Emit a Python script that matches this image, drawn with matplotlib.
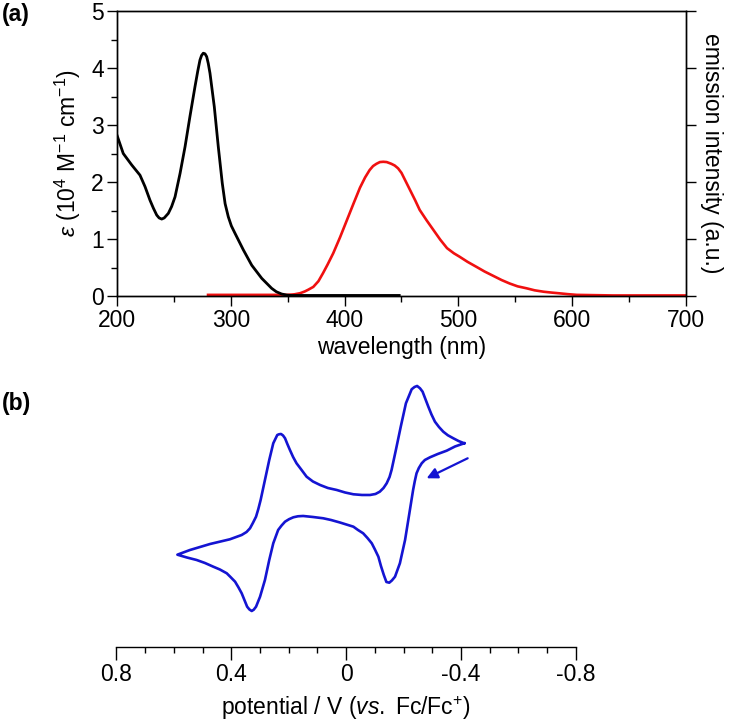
import matplotlib
matplotlib.use('Agg')
import matplotlib.pyplot as plt
from matplotlib.ticker import MultipleLocator

plt.rcParams['font.family'] = ['Liberation Sans', 'DejaVu Sans']
plt.rcParams['mathtext.fontset'] = 'custom'
plt.rcParams['mathtext.rm'] = 'Liberation Sans'
plt.rcParams['mathtext.it'] = 'Liberation Sans:italic'
plt.rcParams['axes.unicode_minus'] = False

# (a) absorption spectrum, epsilon in 10^4 M-1 cm-1
abs_nm = [200, 205.5, 212.9, 220.2, 224.6, 229, 232, 234.9, 237, 239.3, 241.5,
          245.1, 248, 251, 255.4, 259.8, 264.1, 268.5, 271, 272.9, 274.3, 275.8,
          277.3, 278.8, 280.2, 281.7, 285.5, 289, 292.5, 295, 297.8, 300.5, 303.7,
          311, 318.4, 327.2, 335.9, 340, 344.7, 349, 353.5, 370, 400, 448]
abs_eps = [2.82, 2.50, 2.30, 2.12, 1.92, 1.68, 1.54, 1.42, 1.37, 1.35, 1.37,
           1.45, 1.57, 1.74, 2.15, 2.62, 3.15, 3.67, 3.95, 4.14, 4.22, 4.26,
           4.25, 4.20, 4.08, 3.91, 3.32, 2.62, 1.98, 1.62, 1.39, 1.23, 1.10,
           0.81, 0.54, 0.31, 0.135, 0.075, 0.035, 0.018, 0.01, 0.01, 0.01, 0.01]

# (a) emission spectrum (a.u.)
em_nm = [280, 300, 330, 350, 356, 361, 365, 368, 372.5, 377, 381, 385, 390,
         396, 402, 408, 413.5, 418, 422, 425, 428, 431, 434, 437, 441, 444,
         447, 450, 453, 457.5, 462, 466, 472, 478, 484, 490, 496, 501, 508,
         516, 523, 531, 538, 545, 552, 560, 567, 575, 582, 589, 596, 604,
         620, 636, 660, 700]
em_int = [0.02, 0.02, 0.02, 0.02, 0.03, 0.05, 0.08, 0.11, 0.16, 0.26, 0.40,
          0.55, 0.75, 1.03, 1.33, 1.63, 1.90, 2.08, 2.21, 2.28, 2.32, 2.35,
          2.355, 2.35, 2.32, 2.29, 2.24, 2.16, 2.04, 1.86, 1.68, 1.51, 1.33,
          1.16, 0.99, 0.84, 0.75, 0.69, 0.60, 0.51, 0.43, 0.35, 0.28, 0.22,
          0.17, 0.135, 0.10, 0.075, 0.06, 0.047, 0.033, 0.02, 0.015, 0.01,
          0.01, 0.01]

# (b) cyclic voltammogram, starting at the negative vertex (arrow direction)
cv_pot = [-0.411, -0.379, -0.350, -0.319, -0.292, -0.274, -0.263, -0.253, -0.245,
          -0.239, -0.233, -0.220, -0.205, -0.187, -0.170, -0.159, -0.150, -0.140,
          -0.131, -0.121, -0.112, -0.100, -0.089, -0.074, -0.059, -0.041, -0.025,
          0.022, 0.053, 0.080, 0.116, 0.150, 0.168, 0.184, 0.199, 0.213, 0.225,
          0.237, 0.254, 0.268, 0.283, 0.300, 0.314, 0.322, 0.329, 0.337, 0.345,
          0.364, 0.375, 0.387, 0.403, 0.416, 0.440, 0.463, 0.492, 0.521, 0.555,
          0.588,
          0.544, 0.474, 0.405, 0.364, 0.347, 0.335, 0.325, 0.314, 0.306, 0.298,
          0.283, 0.268, 0.254, 0.240, 0.234, 0.227, 0.220, 0.213, 0.205, 0.196,
          0.185, 0.173, 0.158, 0.138, 0.116, 0.091, 0.064, 0.033, 0.004, -0.025,
          -0.055, -0.083, -0.102, -0.117, -0.130, -0.141, -0.151, -0.158, -0.173,
          -0.190, -0.208, -0.228, -0.238, -0.247, -0.257, -0.266, -0.286, -0.297,
          -0.309, -0.323, -0.338, -0.354, -0.373, -0.391, -0.411]
cv_cur = [7.67, 7.35, 6.93, 6.6, 6.27, 6.0, 5.67, 5.2, 4.67,
          3.9, 3.0, 0.67, -2.0, -4.33, -5.67, -6.05, -6.27, -6.2,
          -5.5, -4.6, -3.67, -2.95, -2.33, -1.8, -1.33, -1.0, -0.67,
          -0.25, 0.0, 0.17, 0.3, 0.4, 0.37, 0.27, 0.08, -0.17, -0.55,
          -1.0, -2.33, -4.0, -6.0, -7.67, -8.67, -8.97, -9.1, -8.95, -8.67,
          -7.33, -6.75, -6.17, -5.7, -5.33, -4.95, -4.67, -4.3, -4.0, -3.75,
          -3.47,
          -3.0, -2.4, -1.93, -1.5, -1.2, -0.83, -0.3, 0.33, 1.1, 2.0,
          4.0, 6.0, 7.67, 8.5, 8.57, 8.6, 8.45, 8.17, 7.6, 7.0,
          6.3, 5.67, 5.1, 4.33, 3.85, 3.5, 3.2, 3.0, 2.75, 2.57,
          2.5, 2.5, 2.6, 2.83, 3.2, 3.67, 4.3, 5.0, 7.0,
          9.33, 11.67, 13.07, 13.3, 13.4, 13.17, 12.83, 11.33, 10.55,
          9.83, 9.3, 8.83, 8.47, 8.17, 7.9, 7.67]
cv_ticks = [0.8, 0.4, 0, -0.4, -0.8]
cv_ticklabels = ['0.8', '0.4', '0', '-0.4', '-0.8']

FS = 16.5

fig = plt.figure(figsize=(7.29, 7.25), dpi=100)

# ---- panel (a)
ax = fig.add_axes([0.1605, 0.5917, 0.7805, 0.3931])
ax2 = ax.twinx()
ax2.plot(em_nm, em_int, color='#f01010', lw=1.9, solid_joinstyle='round')
ax.plot(abs_nm, abs_eps, color='black', lw=2.0, solid_joinstyle='round')
ax.set_zorder(ax2.get_zorder() + 1)
ax.patch.set_visible(False)

ax.set_xlim(200, 700)
ax.set_ylim(0, 5)
ax2.set_ylim(0, 5)
ax.xaxis.set_major_locator(MultipleLocator(100))
ax.xaxis.set_minor_locator(MultipleLocator(50))
ax.yaxis.set_major_locator(MultipleLocator(1))
ax.yaxis.set_minor_locator(MultipleLocator(0.5))
ax2.yaxis.set_major_locator(MultipleLocator(1))
ax2.set_yticklabels([])
for a in (ax, ax2):
    for s in a.spines.values():
        s.set_linewidth(1.0)
ax.tick_params(which='major', direction='out', length=7.5, width=1.0, labelsize=FS, pad=2)
ax.tick_params(which='minor', direction='out', length=4, width=1.0)
ax.tick_params(top=False, right=False)
ax2.tick_params(which='major', direction='out', length=7.5, width=1.0)
ax.set_xlabel('wavelength (nm)', fontsize=FS, labelpad=3)
ax.set_ylabel(r'$\varepsilon$ (10$^{4}$ M$^{-1}$ cm$^{-1}$)', fontsize=FS, labelpad=6)
ax2.set_ylabel('emission intensity (a.u.)', fontsize=FS, rotation=270, labelpad=16)

# ---- panel (b)
bx = fig.add_axes([0.1598, 0.1076, 0.6302, 0.3752])
bx.plot(cv_pot, cv_cur, color='#1414d2', lw=1.9, solid_joinstyle='round')
bx.annotate('', xy=(-0.280, 4.17), xytext=(-0.423, 6.17),
            arrowprops=dict(arrowstyle='-|>', color='#1414d2', lw=1.6,
                            mutation_scale=16, shrinkA=0, shrinkB=0))
bx.set_xlim(0.8, -0.8)
bx.set_ylim(-12.7, 14.5)
for side in ('top', 'left', 'right'):
    bx.spines[side].set_visible(False)
bx.spines['bottom'].set_linewidth(1.0)
bx.set_yticks([])
bx.set_xticks(cv_ticks)
bx.set_xticklabels(cv_ticklabels)
bx.xaxis.set_minor_locator(MultipleLocator(0.1))
bx.tick_params(which='major', direction='out', length=9.5, width=1.0, labelsize=FS, pad=2)
bx.tick_params(which='minor', direction='out', length=4.5, width=1.0)
bx.set_xlabel(r'potential / V ($\it{vs.}$ Fc/Fc$^{+}$)', fontsize=FS, labelpad=6)

fig.text(0.003, 1 - 15 / 725, '(a)', fontsize=FS, weight='bold', va='center')
fig.text(0.003, 1 - 404 / 725, '(b)', fontsize=FS, weight='bold', va='center')

fig.savefig('out.png', dpi=100)
